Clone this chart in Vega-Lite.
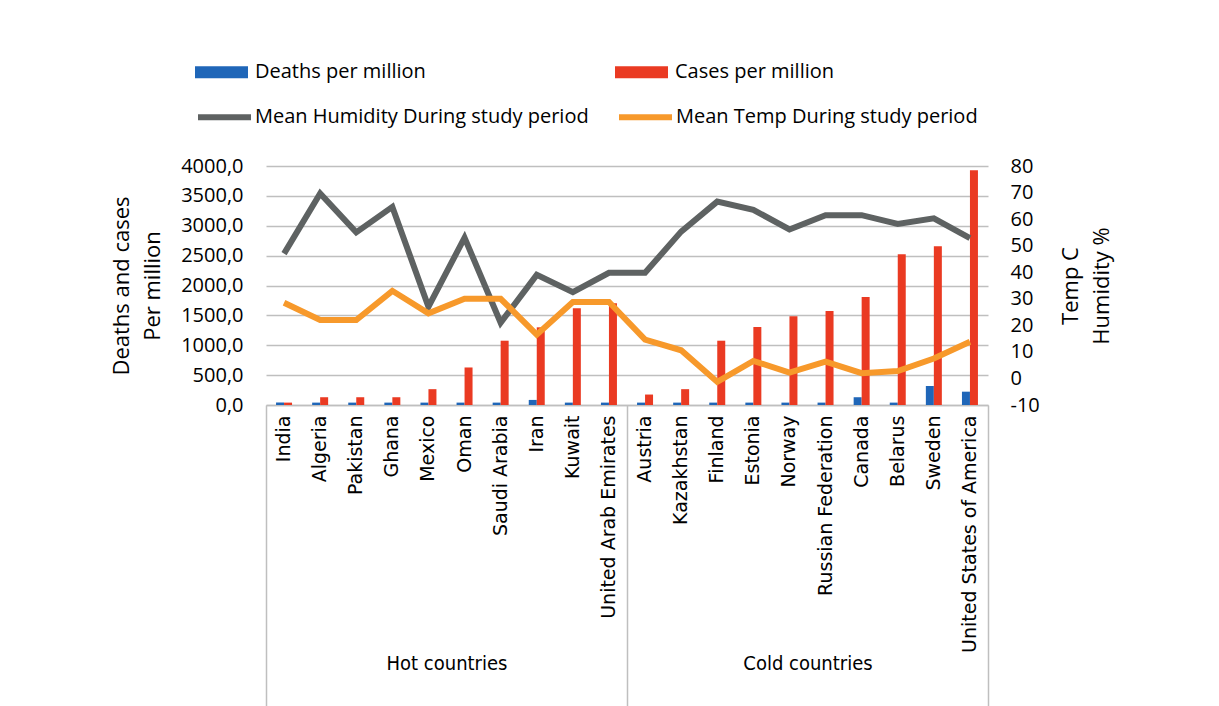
{
  "$schema": "https://vega.github.io/schema/vega-lite/v6.json",
  "width": 722,
  "height": 239,
  "autosize": {"type": "none"},
  "padding": {"left": 266, "top": 166, "right": 231, "bottom": 301},
  "background": "white",
  "config": {"view": {"stroke": null}, "font": "Open Sans"},
  "datasets": {
    "countries": [
      {"country": "India", "deaths": 40, "cases": 40, "humidity": 47, "temp": 28.5},
      {"country": "Algeria", "deaths": 40, "cases": 130, "humidity": 69.7, "temp": 22},
      {"country": "Pakistan", "deaths": 40, "cases": 130, "humidity": 55, "temp": 22},
      {"country": "Ghana", "deaths": 40, "cases": 130, "humidity": 64.6, "temp": 33},
      {"country": "Mexico", "deaths": 40, "cases": 265, "humidity": 27, "temp": 24.5},
      {"country": "Oman", "deaths": 40, "cases": 628, "humidity": 53, "temp": 30},
      {"country": "Saudi Arabia", "deaths": 40, "cases": 1076, "humidity": 21, "temp": 30},
      {"country": "Iran", "deaths": 85, "cases": 1300, "humidity": 39, "temp": 16.5},
      {"country": "Kuwait", "deaths": 40, "cases": 1618, "humidity": 32.5, "temp": 28.8},
      {"country": "United Arab Emirates", "deaths": 40, "cases": 1705, "humidity": 39.8, "temp": 28.8},
      {"country": "Austria", "deaths": 40, "cases": 175, "humidity": 39.8, "temp": 14.6},
      {"country": "Kazakhstan", "deaths": 40, "cases": 265, "humidity": 55.3, "temp": 10.6},
      {"country": "Finland", "deaths": 40, "cases": 1076, "humidity": 66.6, "temp": -1.3},
      {"country": "Estonia", "deaths": 40, "cases": 1305, "humidity": 63.5, "temp": 6.6},
      {"country": "Norway", "deaths": 40, "cases": 1485, "humidity": 56.1, "temp": 2.2},
      {"country": "Russian Federation", "deaths": 40, "cases": 1575, "humidity": 61.5, "temp": 6.3},
      {"country": "Canada", "deaths": 130, "cases": 1808, "humidity": 61.5, "temp": 2.0},
      {"country": "Belarus", "deaths": 40, "cases": 2525, "humidity": 58.2, "temp": 2.8},
      {"country": "Sweden", "deaths": 318, "cases": 2658, "humidity": 60.3, "temp": 7.5},
      {"country": "United States of America", "deaths": 223, "cases": 3927, "humidity": 52.8, "temp": 13.8}
    ],
    "groups": [{"pos": 0}, {"pos": 20}]
  },
  "layer": [
    {
      "data": {"name": "countries"},
      "transform": [{"fold": ["deaths", "cases"], "as": ["key", "value"]}],
      "mark": {"type": "bar"},
      "encoding": {
        "x": {
          "field": "country", "type": "nominal",
          "scale": {"domain": ["India","Algeria","Pakistan","Ghana","Mexico","Oman","Saudi Arabia","Iran","Kuwait","United Arab Emirates","Austria","Kazakhstan","Finland","Estonia","Norway","Russian Federation","Canada","Belarus","Sweden","United States of America"], "paddingInner": 0.557, "paddingOuter": 0.2785},
          "axis": {"title": null, "labelAngle": -90, "labelAlign": "right", "labelBaseline": "middle", "labelPadding": 10, "ticks": false, "domainColor": "#BFBFBF", "domainWidth": 1.5, "labelFont": "DejaVu Sans", "labelFontSize": 19, "labelColor": "#000000", "labelLimit": 300, "labelOverlap": false}
        },
        "xOffset": {"field": "key", "type": "nominal", "scale": {"domain": ["deaths", "cases"], "paddingInner": 0, "paddingOuter": 0}},
        "y": {
          "field": "value", "type": "quantitative",
          "scale": {"domain": [0, 4000], "nice": false},
          "axis": {"values": [0,500,1000,1500,2000,2500,3000,3500,4000], "labelExpr": "replace(format(datum.value, '.1f'), '.', ',')", "grid": true, "gridColor": "#BFBFBF", "gridWidth": 1.5, "domain": false, "ticks": false, "labelPadding": 23, "labelFontSize": 20, "labelColor": "#000000", "title": ["Deaths and cases", "Per million"], "titleFontSize": 22, "titleFontWeight": "normal", "titleColor": "#000000", "titlePadding": 16, "titleLineHeight": 31}
        },
        "color": {
          "field": "key", "type": "nominal",
          "scale": {"domain": ["deaths", "cases"], "range": ["#1F66B8", "#EA3A22"]},
          "legend": {"orient": "none", "legendX": -71, "legendY": -120.5, "direction": "horizontal", "columns": 2, "columnPadding": 189, "title": null, "symbolType": "M-1,-0.226H1V0.226H-1Z", "symbolSize": 2809, "symbolStrokeWidth": 0, "labelFontSize": 20, "labelFont": "Open Sans", "labelColor": "#000000", "labelOffset": 7, "labelLimit": 500, "padding": 0, "labelExpr": "datum.label == 'deaths' ? 'Deaths per million' : 'Cases per million'"}
        }
      }
    },
    {
      "data": {"name": "countries"},
      "transform": [{"fold": ["humidity", "temp"], "as": ["key", "value"]}],
      "mark": {"type": "line", "strokeWidth": 6},
      "encoding": {
        "x": {
          "field": "country", "type": "nominal",
          "scale": {"domain": ["India","Algeria","Pakistan","Ghana","Mexico","Oman","Saudi Arabia","Iran","Kuwait","United Arab Emirates","Austria","Kazakhstan","Finland","Estonia","Norway","Russian Federation","Canada","Belarus","Sweden","United States of America"], "paddingInner": 0.557, "paddingOuter": 0.2785},
          "axis": null
        },
        "y": {
          "field": "value", "type": "quantitative",
          "scale": {"domain": [-10, 80], "nice": false},
          "axis": {"orient": "right", "values": [-10,0,10,20,30,40,50,60,70,80], "labelExpr": "'' + datum.value", "grid": false, "domain": false, "ticks": false, "labelPadding": 22, "labelFontSize": 20, "labelColor": "#000000", "title": ["Temp C", "Humidity %"], "titleAngle": 270, "titleBaseline": "top", "titleFontSize": 22, "titleFontWeight": "normal", "titleColor": "#000000", "titlePadding": -10, "titleLineHeight": 31}
        },
        "color": {
          "field": "key", "type": "nominal",
          "scale": {"domain": ["humidity", "temp"], "range": ["#5E6262", "#F7992B"]},
          "legend": {"orient": "none", "legendX": -71, "legendY": -78.5, "direction": "horizontal", "columns": 2, "columnPadding": 18, "title": null, "symbolType": "stroke", "symbolSize": 2809, "symbolStrokeWidth": 6, "labelFontSize": 20, "labelFont": "Open Sans", "labelColor": "#000000", "labelOffset": 1, "labelLimit": 500, "padding": 0, "labelExpr": "datum.label == 'humidity' ? 'Mean Humidity During study period' : 'Mean Temp During study period'"}
        }
      }
    },
    {
      "data": {"name": "groups"},
      "mark": {"type": "point", "opacity": 0},
      "encoding": {
        "x": {
          "field": "pos", "type": "quantitative",
          "scale": {"domain": [0, 20], "nice": false, "zero": false},
          "axis": {"orient": "bottom", "values": [0, 5, 10, 15, 20], "tickSize": 301, "tickColor": "#BFBFBF", "tickWidth": 1.5, "tickOpacity": {"condition": {"test": "datum.value == 5 || datum.value == 15", "value": 0}, "value": 1}, "domain": false, "grid": false, "labelExpr": "datum.value == 5 ? 'Hot countries' : datum.value == 15 ? 'Cold countries' : ''", "labelPadding": -43, "labelFont": "Liberation Sans Narrow, DejaVu Sans Condensed, Open Sans", "labelFontSize": 20, "labelColor": "#000000", "labelBaseline": "middle", "labelAlign": "center", "labelFlush": false, "labelOverlap": false, "title": null}
        }
      }
    }
  ],
  "resolve": {"scale": {"x": "independent", "y": "independent", "color": "independent"}}
}
